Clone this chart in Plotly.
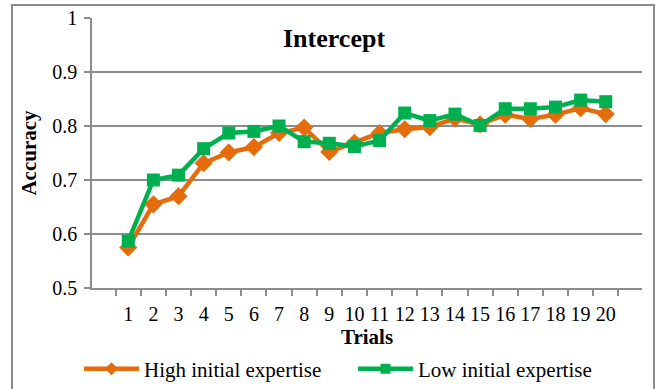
import plotly.graph_objects as go

# Accuracy per trial for the two expertise groups
trials = [str(i) for i in range(1, 21)]
high_expertise = [0.575, 0.655, 0.670, 0.731, 0.751, 0.761, 0.787, 0.797, 0.752, 0.769,
                  0.787, 0.794, 0.798, 0.814, 0.803, 0.821, 0.813, 0.821, 0.833, 0.822]
low_expertise = [0.587, 0.700, 0.709, 0.758, 0.787, 0.790, 0.800, 0.771, 0.768, 0.762,
                 0.773, 0.824, 0.810, 0.822, 0.801, 0.832, 0.832, 0.835, 0.848, 0.845]
y_ticks = [0.5, 0.6, 0.7, 0.8, 0.9, 1.0]
y_tick_text = ["0.5", "0.6", "0.7", "0.8", "0.9", "1"]

ORANGE = "#E46C0A"
GREEN = "#00B050"
GRAY = "#8C8C8C"
FONT = "'Liberation Serif', 'Times New Roman', 'DejaVu Serif', serif"

W, H = 655, 389
L, R, T, B = 92, 13, 18, 101
pw, ph = W - L - R, H - T - B


def px_x(x):
    return (x - L) / pw


def px_y(y):
    return (H - B - y) / ph


series = [
    ("High initial expertise", high_expertise, ORANGE, "diamond", 14, 10),
    ("Low initial expertise", low_expertise, GREEN, "square", 13, 10),
]

fig = go.Figure()
for name, values, color, symbol, size, legend_size in series:
    fig.add_trace(go.Scatter(
        x=trials, y=values, name=name, mode="lines+markers", showlegend=False,
        legendgroup=name, line=dict(color=color, width=4.5),
        marker=dict(symbol=symbol, size=size, color=color),
    ))
    # legend entry with a smaller marker
    fig.add_trace(go.Scatter(
        x=[None], y=[None], name=name, mode="lines+markers", legendgroup=name,
        line=dict(color=color, width=4.5),
        marker=dict(symbol=symbol, size=legend_size, color=color),
    ))

fig.update_layout(
    width=W, height=H,
    margin=dict(l=L, r=R, t=T, b=B, autoexpand=False),
    paper_bgcolor="white", plot_bgcolor="white",
    font=dict(family=FONT, size=20, color="black"),
    showlegend=True,
    legend=dict(
        orientation="h", x=px_x(79), xanchor="left", y=px_y(369), yanchor="middle",
        itemwidth=55, entrywidth=204, entrywidthmode="pixels",
        font=dict(family=FONT, size=21), bgcolor="rgba(0,0,0,0)",
    ),
    xaxis=dict(
        type="category", tickson="boundaries", ticks="outside", ticklen=6,
        tickcolor=GRAY, tickwidth=1.5, showline=True, linecolor=GRAY, linewidth=1.5,
        showgrid=False, zeroline=False, tickangle=0, ticklabelstandoff=7,
        title=dict(text="<b>Trials</b>", font=dict(family=FONT, size=21), standoff=2),
        tickfont=dict(family=FONT, size=20),
    ),
    yaxis=dict(
        range=[0.5, 1.0], tickvals=y_ticks, ticktext=y_tick_text,
        ticks="outside", ticklen=6, tickcolor=GRAY, tickwidth=1.5,
        showline=True, linecolor=GRAY, linewidth=1.5,
        showgrid=True, gridcolor=GRAY, gridwidth=1.5, zeroline=False,
        ticklabelstandoff=3,
        title=dict(text="<b>Accuracy</b>", font=dict(family=FONT, size=21), standoff=10),
        tickfont=dict(family=FONT, size=20),
    ),
    annotations=[dict(
        text="<b>Intercept</b>", xref="paper", yref="paper",
        x=px_x(334), y=px_y(39), xanchor="center", yanchor="middle",
        showarrow=False, font=dict(family=FONT, size=26, color="black"),
    )],
    shapes=[dict(
        type="rect", xref="paper", yref="paper", layer="below",
        x0=px_x(12), x1=px_x(654), y0=px_y(400), y1=px_y(5),
        line=dict(color=GRAY, width=2), fillcolor="rgba(0,0,0,0)",
    )],
)

fig.write_html("out.html")
